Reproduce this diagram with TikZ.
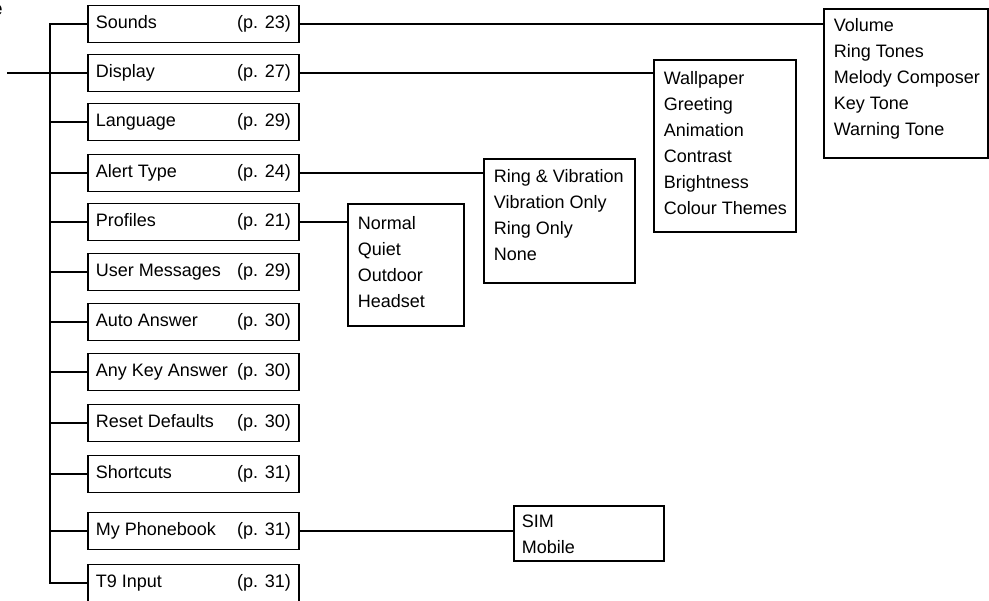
\documentclass[tikz,border=0pt]{standalone}
\usepackage{fontspec}
\setmainfont{Liberation Sans}
\begin{document}
\begin{tikzpicture}[x=1pt,y=-1pt,line width=1.8pt,
  font=\fontsize{18}{26}\selectfont,
  mainbox/.style={draw,minimum width=211pt,minimum height=37pt,inner sep=0pt,anchor=west},
  subbox/.style={draw,anchor=north west,inner sep=0pt},
  listtext/.style={anchor=north west,align=left,inner sep=0pt},
  link/.style={line width=1.8pt}]
\useasboundingbox (0,0) rectangle (989,601);

% clipped fragment at top left
\node[anchor=east,inner sep=0pt,font=\fontsize{20}{24}\selectfont\bfseries] (frag) at (3.5,10) {e};

% main menu boxes
\newcommand{\mitem}[4]{\node[mainbox] (#1) at (87,#2) {\makebox[195pt][l]{#3\hfill#4}};}
\mitem{m1}{24}{Sounds}{(p. 23)}
\mitem{m2}{73}{Display}{(p. 27)}
\mitem{m3}{122}{Language}{(p. 29)}
\mitem{m4}{173}{Alert Type}{(p. 24)}
\mitem{m5}{222}{Profiles}{(p. 21)}
\mitem{m6}{272}{User Messages}{(p. 29)}
\mitem{m7}{322}{Auto Answer}{(p. 30)}
\mitem{m8}{372}{Any Key Answer}{(p. 30)}
\mitem{m9}{423}{Reset Defaults}{(p. 30)}
\mitem{m10}{474}{Shortcuts}{(p. 31)}
\mitem{m11}{531}{My Phonebook}{(p. 31)}
\mitem{m12}{583}{T9 Input}{(p. 31)}

% trunk
\coordinate (tTop) at (50,24);
\coordinate (tBot) at (50,583);
\coordinate (inEnd) at (7,73);
\draw[link] (inEnd) -- (inEnd -| tTop);
\draw[link] (m1.west) -- (tTop) -- (tBot) -- (m12.west);
\foreach \m in {m2,m3,m4,m5,m6,m7,m8,m9,m10,m11}
  \draw[link] (\m.west) -- (\m.west -| tTop);

% sub boxes
\node[subbox,minimum width=164pt,minimum height=149pt] (vol) at (823,8) {};
\node[listtext] (volt) at (833,17.5) {Volume\\Ring Tones\\Melody Composer\\Key Tone\\Warning Tone};

\node[subbox,minimum width=142pt,minimum height=172pt] (wal) at (653,59) {};
\node[listtext] (walt) at (663,70.5) {Wallpaper\\Greeting\\Animation\\Contrast\\Brightness\\Colour Themes};

\node[subbox,minimum width=151pt,minimum height=124pt] (rng) at (483,158) {};
\node[listtext] (rngt) at (493,168.5) {Ring \& Vibration\\Vibration Only\\Ring Only\\None};

\node[subbox,minimum width=116pt,minimum height=122pt] (nrm) at (347,203) {};
\node[listtext] (nrmt) at (357,215.5) {Normal\\Quiet\\Outdoor\\Headset};

\node[subbox,minimum width=150pt,minimum height=55pt] (sim) at (513,505) {};
\node[listtext] (simt) at (521,514.5) {SIM\\Mobile};

% connectors
\draw[link] (m1.east) -- (m1.east -| vol.west);
\draw[link] (m2.east) -- (m2.east -| wal.west);
\draw[link] (m4.east) -- (m4.east -| rng.west);
\draw[link] (m5.east) -- (m5.east -| nrm.west);
\draw[link] (m11.east) -- (m11.east -| sim.west);
\end{tikzpicture}
\end{document}
